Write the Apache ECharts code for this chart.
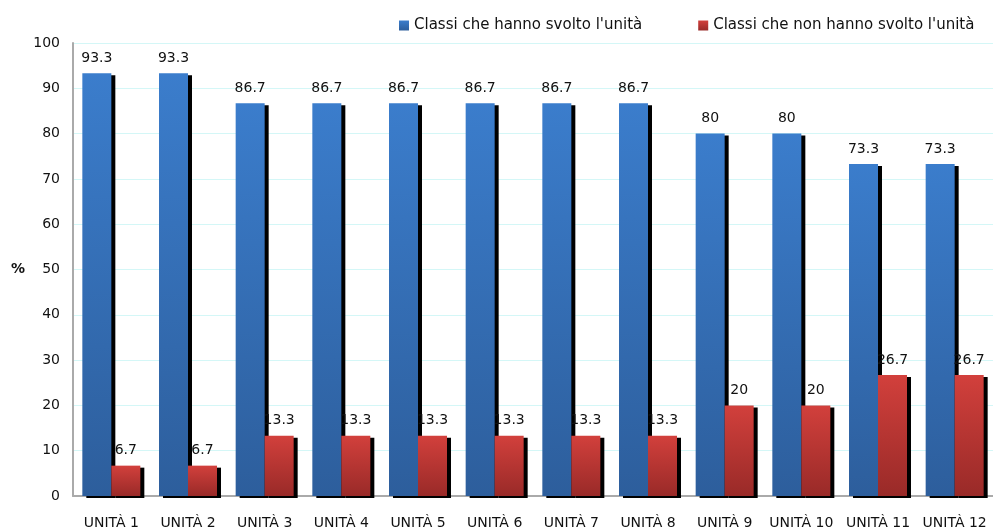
<!DOCTYPE html>
<html><head><meta charset="utf-8">
<script src="https://cdn.jsdelivr.net/npm/echarts@6/dist/echarts.min.js"></script>
<style>html,body{margin:0;padding:0;background:#fff}#c{width:993px;height:530px}</style>
</head><body><div id="c"></div>
<script>
const categories = ['UNITÀ 1','UNITÀ 2','UNITÀ 3','UNITÀ 4','UNITÀ 5','UNITÀ 6','UNITÀ 7','UNITÀ 8','UNITÀ 9','UNITÀ 10','UNITÀ 11','UNITÀ 12'];
const svolto = [93.3,93.3,86.7,86.7,86.7,86.7,86.7,86.7,80,80,73.3,73.3];
const nonSvolto = [6.7,6.7,13.3,13.3,13.3,13.3,13.3,13.3,20,20,26.7,26.7];
const seriesNames = ["Classi che hanno svolto l'unità","Classi che non hanno svolto l'unità"];

const grad = (a,b)=>new echarts.graphic.LinearGradient(0,0,0,1,[{offset:0,color:a},{offset:1,color:b}]);
const font = 'DejaVu Sans';
const chart = echarts.init(document.getElementById('c'));
const barStyle = (c)=>({color:c, shadowColor:'#000', shadowOffsetX:4, shadowOffsetY:2, shadowBlur:0});
chart.setOption({
  animation:false,
  legend:{
    top:13, left:394, itemGap:56, itemWidth:10, itemHeight:10, icon:'rect',
    textStyle:{fontFamily:font, fontSize:15, color:'#111'},
    data:seriesNames
  },
  grid:{left:73, top:43, width:925, height:454},
  xAxis:{
    type:'category', data:categories,
    axisLine:{lineStyle:{color:'#aaa', width:2}},
    axisTick:{show:false},
    axisLabel:{fontFamily:font, fontSize:14, color:'#111', margin:20, interval:0}
  },
  yAxis:{
    type:'value', min:0, max:100, interval:10,
    name:'%', nameLocation:'middle', nameRotate:0, nameGap:48,
    nameTextStyle:{fontFamily:font, fontSize:14, fontWeight:'bold', color:'#111'},
    axisLine:{show:true, lineStyle:{color:'#aaa', width:2}},
    axisTick:{show:false},
    axisLabel:{fontFamily:font, fontSize:14, color:'#111', margin:13},
    splitLine:{lineStyle:{color:'#d4f7f7', width:1}}
  },
  series:[
    {name:seriesNames[0], type:'bar', data:svolto, barWidth:29, barGap:'0%',
     itemStyle:barStyle(grad('#3b7dcc','#2d5e9c')),
     label:{show:true, position:'top', distance:8, fontFamily:font, fontSize:14, color:'#111'}},
    {name:seriesNames[1], type:'bar', data:nonSvolto, barWidth:29, barGap:'0%',
     itemStyle:barStyle(grad('#d2403c','#992a28')),
     label:{show:true, position:'top', distance:8, fontFamily:font, fontSize:14, color:'#111'}}
  ]
});
</script></body></html>
